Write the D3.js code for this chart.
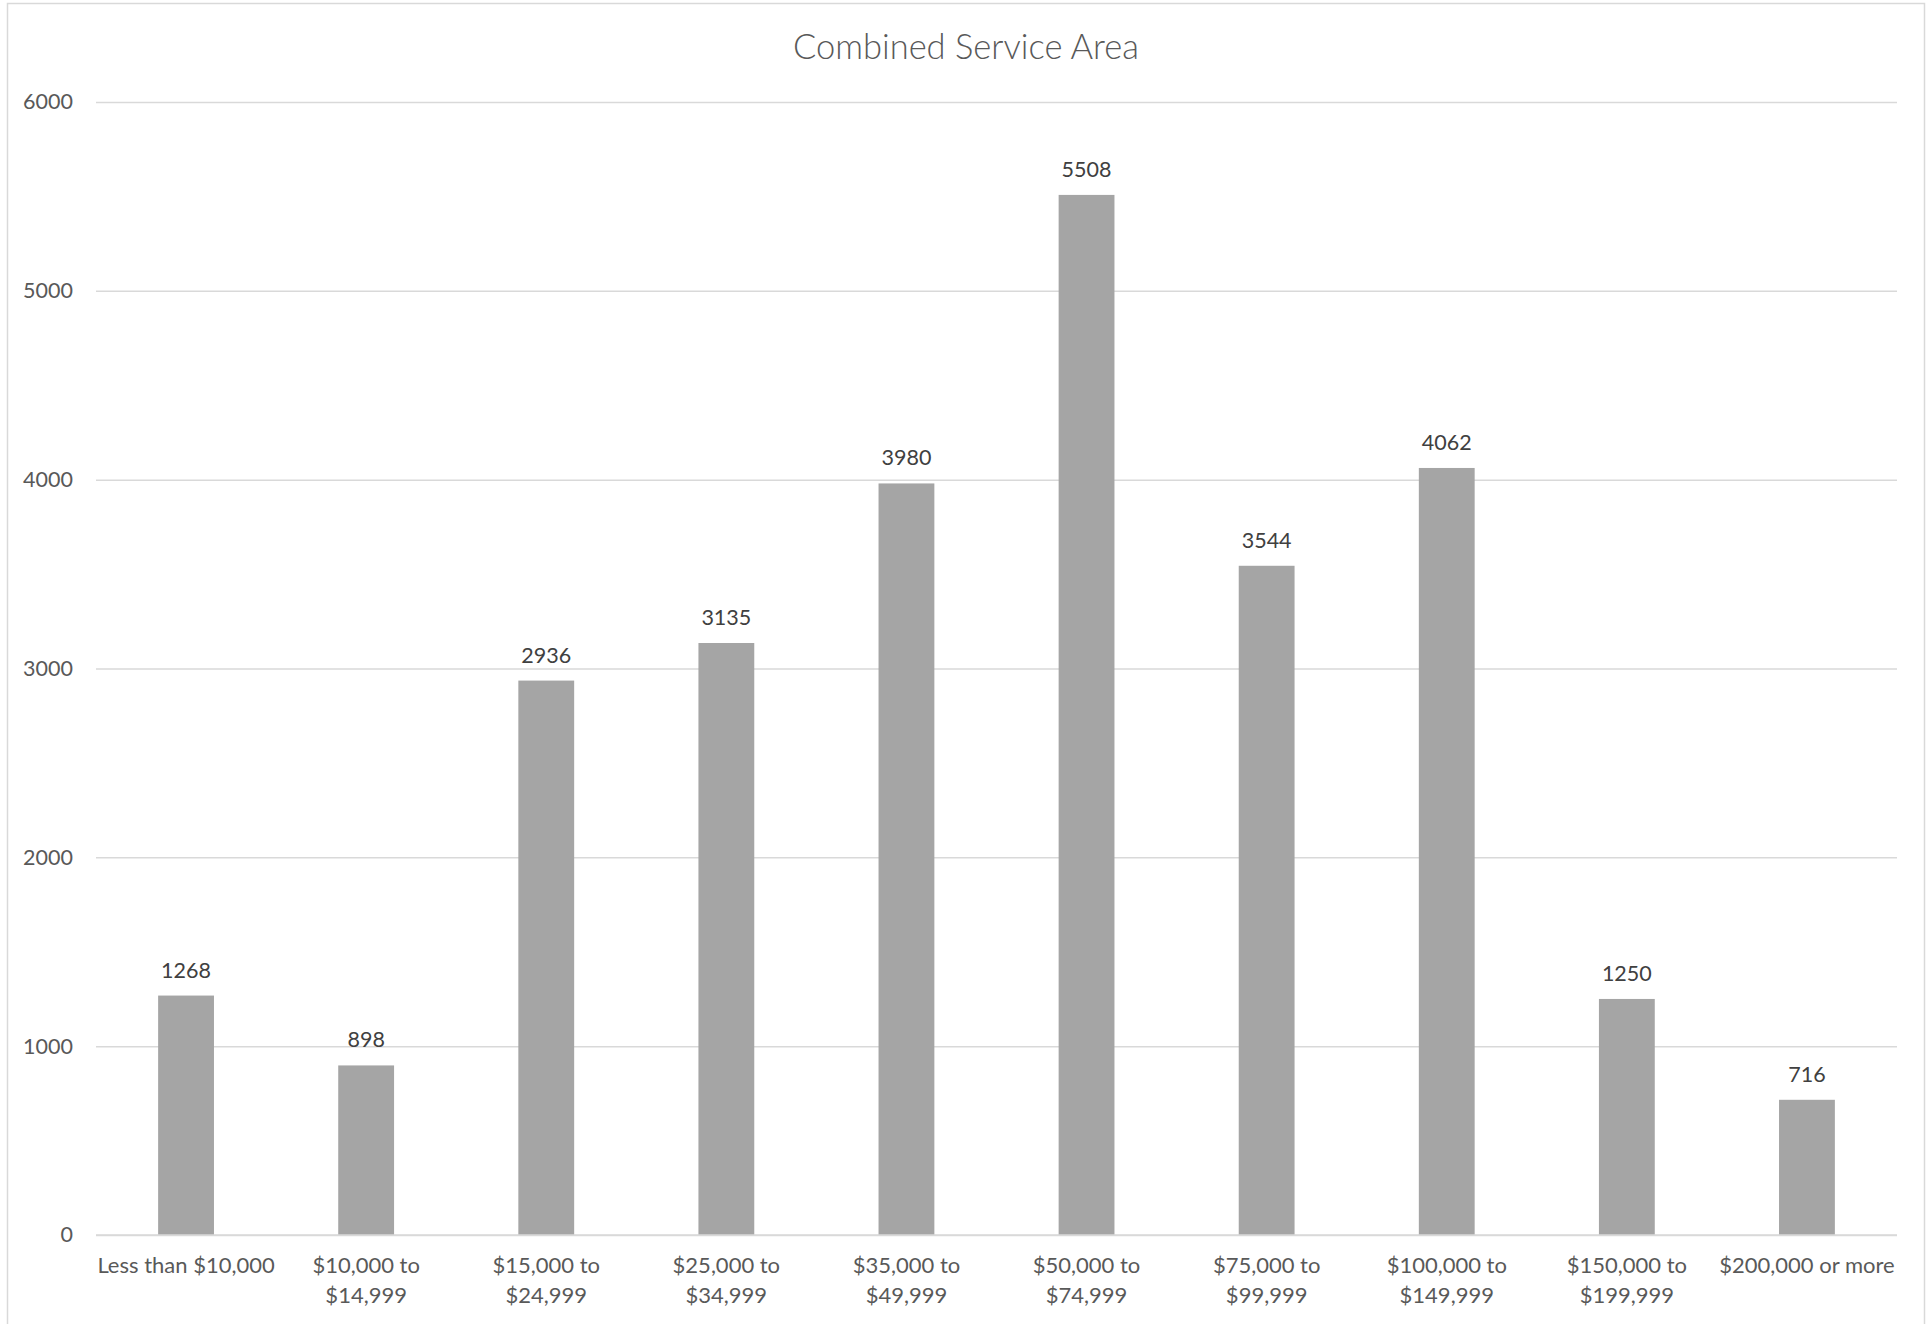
<!DOCTYPE html>
<html><head><meta charset="utf-8">
<script src="https://cdn.jsdelivr.net/npm/d3@7"></script>
<style>html,body{margin:0;padding:0;background:#fff;}svg{display:block;}</style>
</head><body>
<svg id="c" width="1927" height="1324"></svg>
<script>
const categories = ["Less than $10,000","$10,000 to\n$14,999","$15,000 to\n$24,999","$25,000 to\n$34,999","$35,000 to\n$49,999","$50,000 to\n$74,999","$75,000 to\n$99,999","$100,000 to\n$149,999","$150,000 to\n$199,999","$200,000 or more"];
const values = [1268, 898, 2936, 3135, 3980, 5508, 3544, 4062, 1250, 716];
const yTicks = [0, 1000, 2000, 3000, 4000, 5000, 6000];
const title = "Combined Service Area";

const svg = d3.select("#c");
const font = "Lato, 'Open Sans', sans-serif";
const m = {left: 96, right: 1897, top: 102, bottom: 1235};

svg.append("rect").attr("x", 7.5).attr("y", 3.5).attr("width", 1917).attr("height", 1330)
  .attr("fill", "#fff").attr("stroke", "#d9d9d9").attr("stroke-width", 1.5);

const x = d3.scaleBand().domain(categories).range([m.left, m.right]).paddingInner(0.69).paddingOuter(0.345);
const y = d3.scaleLinear().domain([0, 6000]).range([m.bottom, m.top]);

const yAxis = d3.axisLeft(y).tickValues(yTicks).tickSize(-(m.right - m.left)).tickPadding(23).tickFormat(d3.format("d"));
const gy = svg.append("g").attr("transform", `translate(${m.left},0)`).call(yAxis);
gy.select(".domain").remove();
gy.selectAll(".tick line").attr("stroke", "#d9d9d9").attr("stroke-width", 1.5);
gy.selectAll(".tick text").attr("fill", "#595959").style("font-family", font).style("font-size", "21.5px");

svg.append("g").selectAll("rect").data(values).join("rect")
  .attr("x", (d, i) => x(categories[i])).attr("width", x.bandwidth())
  .attr("y", d => y(d)).attr("height", d => y(0) - y(d)).attr("fill", "#a5a5a5");

svg.append("line").attr("x1", m.left).attr("x2", m.right).attr("y1", y(0)).attr("y2", y(0))
  .attr("stroke", "#d9d9d9").attr("stroke-width", 1.5);

svg.append("g").selectAll("text").data(values).join("text")
  .attr("x", (d, i) => x(categories[i]) + x.bandwidth() / 2).attr("y", d => y(d) - 18)
  .attr("text-anchor", "middle").attr("fill", "#404040")
  .style("font-family", font).style("font-size", "21.5px").text(d => d);

const xAxis = d3.axisBottom(x).tickSize(0).tickFormat("");
const gx = svg.append("g").attr("transform", `translate(0,${m.bottom})`).call(xAxis);
gx.select(".domain").remove();
gx.selectAll(".tick").each(function(d) {
  const t = d3.select(this).append("text").attr("text-anchor", "middle").attr("fill", "#595959")
    .style("font-family", font).style("font-size", "22px");
  d.split("\n").forEach((line, i) => {
    t.append("tspan").attr("x", 0).attr("y", 38 + i * 29.5).text(line);
  });
});

svg.append("text").attr("x", 966).attr("y", 59).attr("text-anchor", "middle")
  .attr("fill", "#595959").style("font-family", font).style("font-weight", 300).style("font-size", "34.5px").text(title);
</script>
</body></html>
